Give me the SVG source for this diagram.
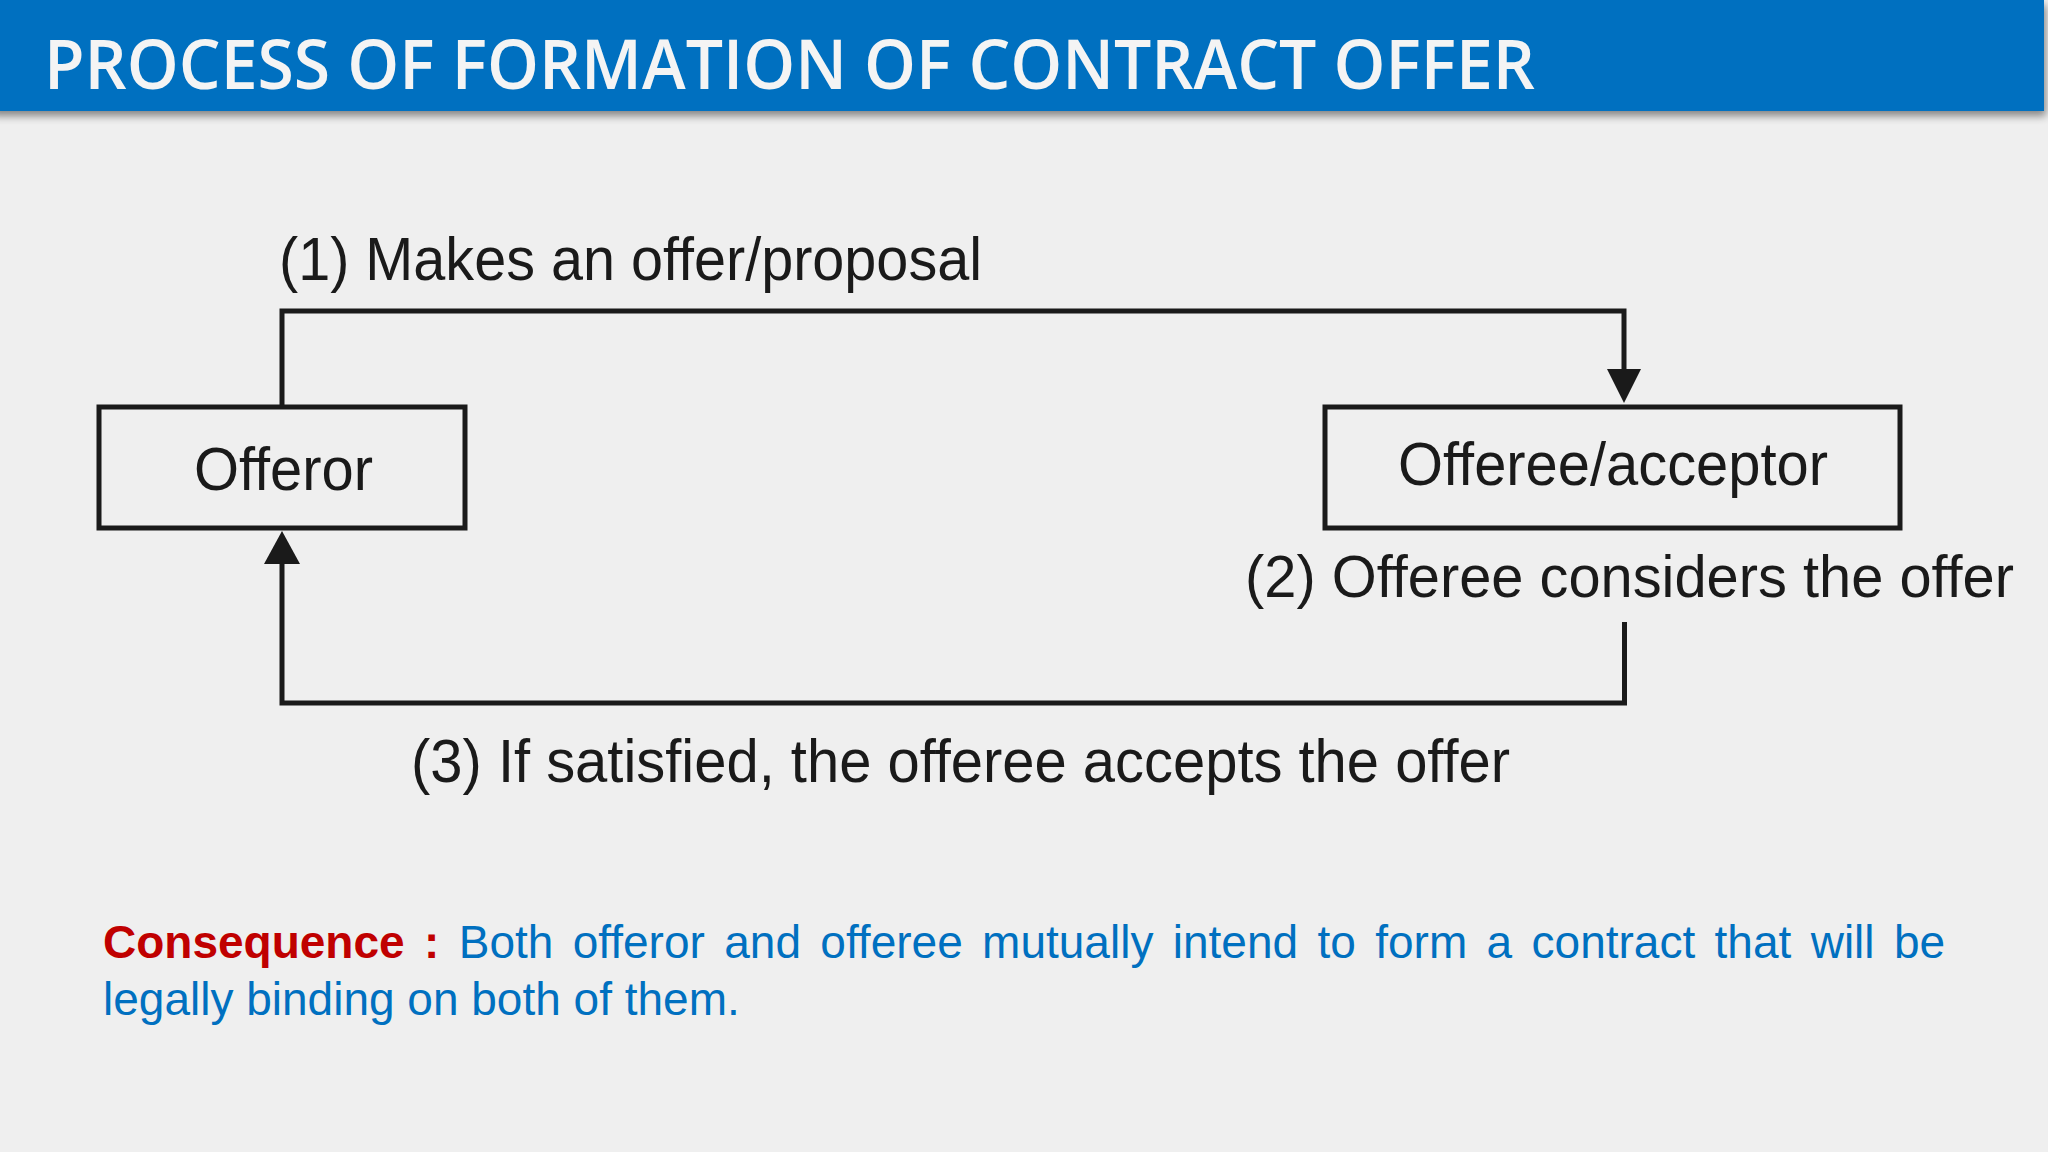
<svg xmlns="http://www.w3.org/2000/svg" width="2048" height="1152" viewBox="0 0 2048 1152">
  <defs>
    <style>
      .node { fill: none; stroke: #1a1a1a; stroke-width: 5; }
      .conn { fill: none; stroke: #1a1a1a; stroke-width: 5; stroke-linejoin: miter; }
      .head { fill: #1a1a1a; }
      .lbl { font-family: "Liberation Sans", Arial, Helvetica, sans-serif; font-size: 62px; fill: #1a1a1a; }
      .title { font-family: "Open Sans", "Liberation Sans", sans-serif; font-weight: 600; font-size: 68px; fill: #F4F4F4; }
      .cons { font-family: "Liberation Sans", Arial, Helvetica, sans-serif; font-size: 46px; }
    </style>
    <filter id="shadow" x="-5%" y="-20%" width="110%" height="150%">
      <feGaussianBlur in="SourceAlpha" stdDeviation="4"/>
      <feOffset dx="2" dy="5" result="b"/>
      <feComponentTransfer><feFuncA type="linear" slope="0.45"/></feComponentTransfer>
      <feMerge><feMergeNode/><feMergeNode in="SourceGraphic"/></feMerge>
    </filter>
  </defs>

  <rect x="0" y="0" width="2048" height="1152" fill="#EFEFEF"/>

  <g id="header">
    <rect x="-10" y="0" width="2054" height="111" fill="#0070C0" filter="url(#shadow)"/>
    <text class="title" x="44" y="89" textLength="1491" lengthAdjust="spacingAndGlyphs">PROCESS OF FORMATION OF CONTRACT OFFER</text>
  </g>

  <g id="connectors">
    <path class="conn" d="M282,405 V311 H1624 V372"/>
    <polygon class="head" points="1607,369 1641,369 1624,403"/>
    <path class="conn" d="M1624.5,622 V703 H282 V560"/>
    <polygon class="head" points="264,564 300,564 282,531"/>
    <text class="lbl" x="279" y="280" textLength="703" lengthAdjust="spacingAndGlyphs">(1) Makes an offer/proposal</text>
    <text class="lbl" x="1245" y="597" font-size="59" textLength="769" lengthAdjust="spacingAndGlyphs" style="font-size:59px">(2) Offeree considers the offer</text>
    <text class="lbl" x="411" y="782" textLength="1099" lengthAdjust="spacingAndGlyphs">(3) If satisfied, the offeree accepts the offer</text>
  </g>

  <g id="offeror">
    <rect class="node" x="99" y="407" width="366" height="121"/>
    <text class="lbl" x="283.5" y="490" text-anchor="middle" textLength="179" lengthAdjust="spacingAndGlyphs">Offeror</text>
  </g>

  <g id="offeree">
    <rect class="node" x="1325" y="407" width="575" height="121"/>
    <text class="lbl" x="1613" y="485" text-anchor="middle" textLength="430" lengthAdjust="spacingAndGlyphs">Offeree/acceptor</text>
  </g>

  <g id="consequence">
    <text class="cons" x="103" y="958" word-spacing="6.6"><tspan font-weight="bold" fill="#C00000">Consequence :</tspan><tspan fill="#0070C0"> Both offeror and offeree mutually intend to form a contract that will be</tspan></text>
    <text class="cons" x="103" y="1015" fill="#0070C0">legally binding on both of them.</text>
  </g>
</svg>
